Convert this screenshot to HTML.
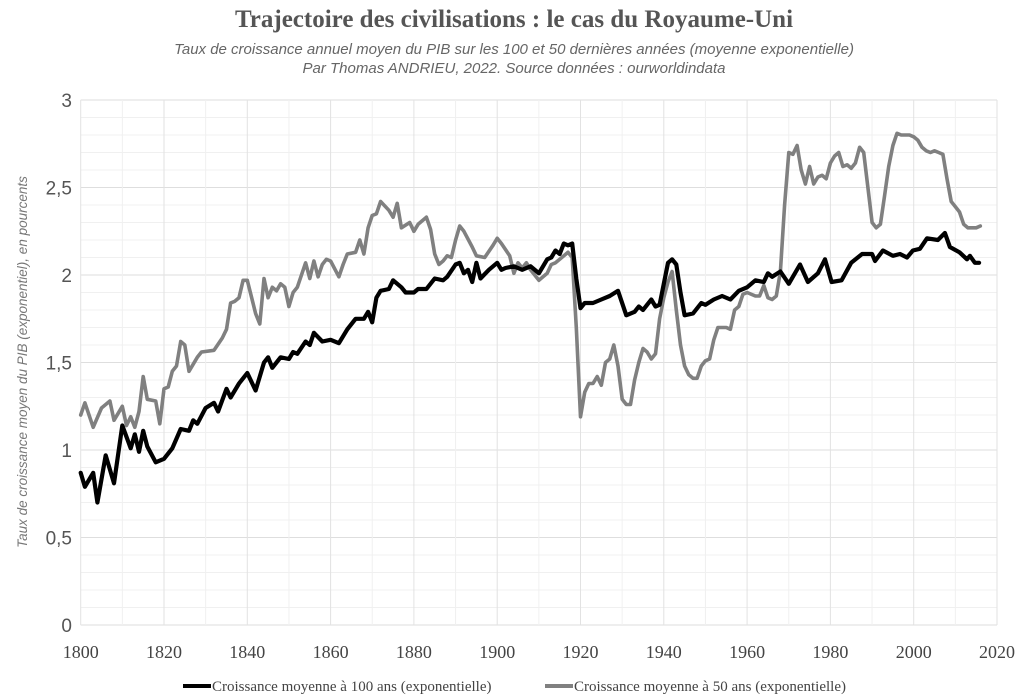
<!DOCTYPE html>
<html><head><meta charset="utf-8"><style>
body{margin:0;background:#fff;width:1024px;height:700px;overflow:hidden}
svg{display:block}
</style></head><body>
<svg id="chart" width="1024" height="700" xmlns="http://www.w3.org/2000/svg">
<text x="514" y="27" text-anchor="middle" font-family="Liberation Serif, serif" font-weight="bold" font-size="25" fill="#555">Trajectoire des civilisations : le cas du Royaume-Uni</text>
<text x="514" y="54" text-anchor="middle" font-family="Liberation Sans, sans-serif" font-style="italic" font-size="15" fill="#666">Taux de croissance annuel moyen du PIB sur les 100 et 50 dernières années (moyenne exponentielle)</text>
<text x="514" y="73" text-anchor="middle" font-family="Liberation Sans, sans-serif" font-style="italic" font-size="15" fill="#666">Par Thomas ANDRIEU, 2022. Source données : ourworldindata</text>
<text transform="translate(27,362) rotate(-90)" text-anchor="middle" font-family="Liberation Sans, sans-serif" font-style="italic" font-size="13.5" fill="#777">Taux de croissance moyen du PIB (exponentiel), en pourcents</text>
<g id="grid"></g><g id="axes"></g><g id="series"></g>
<g>
<line x1="183" y1="686" x2="211" y2="686" stroke="#000" stroke-width="4"/>
<text x="212" y="691" font-family="Liberation Serif, serif" font-size="15" fill="#444">Croissance moyenne à 100 ans (exponentielle)</text>
<line x1="545" y1="686" x2="573" y2="686" stroke="#808080" stroke-width="4"/>
<text x="574" y="691" font-family="Liberation Serif, serif" font-size="15" fill="#444">Croissance moyenne à 50 ans (exponentielle)</text>
</g>
</svg>
<script>
const xTicks=[1800,1820,1840,1860,1880,1900,1920,1940,1960,1980,2000,2020];
const yTicks=[0,0.5,1,1.5,2,2.5,3];
const yTickLabels=["0","0,5","1","1,5","2","2,5","3"];
const years100=[1800,1801,1803,1804,1806,1808,1810,1812,1813,1814,1815,1816,1818,1820,1822,1824,1826,1827,1828,1830,1832,1833,1835,1836,1838,1840,1842,1844,1845,1846,1848,1850,1851,1852,1854,1855,1856,1858,1860,1862,1864,1866,1868,1869,1870,1871,1872,1874,1875,1877,1878,1880,1881,1883,1885,1887,1888,1890,1891,1892,1893,1894,1895,1896,1898,1900,1901,1902,1904,1906,1908,1910,1912,1913,1914,1915,1916,1917,1918,1919,1920,1921,1923,1925,1927,1929,1931,1933,1934,1935,1936,1937,1938,1939,1941,1942,1943,1944,1945,1947,1949,1950,1952,1954,1956,1958,1960,1962,1964,1965,1966,1968,1970,1972.7,1974.6,1977,1978.7,1980.3,1982.7,1985,1987.6,1990,1990.7,1992.6,1995,1996.7,1998.4,1999.8,2001.5,2003.2,2005.8,2007.5,2008.7,2011,2012.8,2013.5,2014.7,2015.7];
const values100=[0.87,0.79,0.87,0.70,0.97,0.81,1.14,1.01,1.09,0.99,1.11,1.02,0.93,0.95,1.01,1.12,1.11,1.17,1.15,1.24,1.27,1.22,1.35,1.30,1.38,1.44,1.34,1.50,1.53,1.47,1.53,1.52,1.56,1.55,1.62,1.60,1.67,1.62,1.63,1.61,1.69,1.75,1.75,1.79,1.73,1.87,1.91,1.92,1.97,1.93,1.90,1.90,1.92,1.92,1.98,1.97,1.99,2.06,2.07,2.01,2.03,1.96,2.07,1.98,2.03,2.07,2.03,2.04,2.05,2.03,2.05,2.01,2.09,2.10,2.14,2.12,2.18,2.17,2.18,1.98,1.81,1.84,1.84,1.86,1.88,1.91,1.77,1.79,1.82,1.80,1.83,1.86,1.82,1.83,2.07,2.09,2.06,1.90,1.77,1.78,1.84,1.83,1.86,1.88,1.86,1.91,1.93,1.97,1.96,2.01,1.99,2.02,1.95,2.06,1.96,2.01,2.09,1.96,1.97,2.07,2.12,2.12,2.08,2.14,2.11,2.12,2.10,2.14,2.15,2.21,2.20,2.24,2.16,2.13,2.09,2.11,2.07,2.07];
const years50=[1800,1801,1803,1805,1807,1808,1810,1811,1812,1813,1814,1815,1816,1818,1819,1820,1821,1822,1823,1824,1825,1826,1828,1829,1832,1834,1835,1836,1837,1838,1839,1840,1842,1843,1844,1845,1846,1847,1848,1849,1850,1851,1852,1854,1855,1856,1857,1858,1859,1860,1862,1863,1864,1866,1867,1868,1869,1870,1871,1872,1874,1875,1876,1877,1879,1880,1881,1883,1884,1885,1886,1887,1888,1889,1890,1891,1892,1894,1895,1897,1899,1900,1901,1903,1904,1905,1906,1907,1908,1909,1910,1912,1913,1914,1915,1917,1918,1919,1920,1921,1922,1923,1924,1925,1926,1927,1928,1929,1930,1931,1932,1933,1934,1935,1936,1937,1938,1939,1940,1941,1942,1943,1944,1945,1946,1947,1948,1949,1950,1951,1952,1953,1954,1955,1956,1957,1958,1959,1960,1962,1963,1964,1965,1966,1967,1968,1969,1970,1971,1972,1973,1974,1975,1976,1977,1978,1979,1980,1981,1982,1983,1984,1985,1986,1987,1988,1989,1990,1991,1992,1993,1994,1995,1996,1997,1998,1999,2000,2001,2002,2003,2004,2005,2006,2007,2008,2009,2010,2011,2012,2013,2014,2015,2016];
const values50=[1.20,1.27,1.13,1.24,1.28,1.17,1.25,1.14,1.19,1.13,1.22,1.42,1.29,1.28,1.15,1.35,1.36,1.45,1.48,1.62,1.60,1.45,1.53,1.56,1.57,1.64,1.69,1.84,1.85,1.87,1.97,1.97,1.78,1.72,1.98,1.87,1.93,1.91,1.95,1.93,1.82,1.90,1.93,2.07,1.98,2.08,1.99,2.06,2.09,2.08,1.99,2.06,2.12,2.13,2.20,2.12,2.27,2.34,2.35,2.42,2.37,2.33,2.41,2.27,2.30,2.25,2.29,2.33,2.26,2.12,2.06,2.08,2.11,2.10,2.20,2.28,2.25,2.16,2.11,2.10,2.17,2.21,2.18,2.11,2.01,2.07,2.04,2.07,2.03,2.00,1.97,2.01,2.06,2.07,2.09,2.13,2.10,1.70,1.19,1.33,1.38,1.38,1.42,1.37,1.50,1.52,1.60,1.48,1.29,1.26,1.26,1.40,1.50,1.58,1.56,1.52,1.55,1.75,1.87,1.96,2.02,1.80,1.60,1.48,1.43,1.41,1.41,1.48,1.51,1.52,1.63,1.70,1.70,1.70,1.69,1.80,1.82,1.89,1.90,1.88,1.88,1.94,1.87,1.86,1.88,2.02,2.40,2.70,2.69,2.74,2.60,2.52,2.62,2.52,2.56,2.57,2.55,2.64,2.68,2.70,2.62,2.63,2.61,2.64,2.73,2.70,2.50,2.30,2.27,2.29,2.45,2.62,2.74,2.81,2.80,2.80,2.80,2.79,2.77,2.73,2.71,2.70,2.71,2.70,2.69,2.55,2.42,2.39,2.36,2.29,2.27,2.27,2.27,2.28];

const NS="http://www.w3.org/2000/svg";
const X0=80.7,X1=997,Y0=625,Y1=100;
function xs(v){return X0+(v-1800)/(2020-1800)*(X1-X0);}
function ys(v){return Y0-(v/3)*(Y0-Y1);}
function mk(tag,attrs,parent){const e=document.createElementNS(NS,tag);for(const k in attrs)e.setAttribute(k,attrs[k]);parent.appendChild(e);return e;}
const grid=document.getElementById('grid'),axes=document.getElementById('axes'),series=document.getElementById('series');
for(let i=0;i<=30;i++){const v=i/10;const l=mk('line',{x1:X0,x2:X1,y1:ys(v),y2:ys(v),stroke:i%5===0?'#dedede':'#f0f0f0','stroke-width':1},grid);

}
for(let yr=1800;yr<=2020;yr+=10){const l=mk('line',{x1:xs(yr),x2:xs(yr),y1:Y1,y2:Y0,stroke:yr%20===0?'#e2e2e2':'#f0f0f0','stroke-width':1},grid);

}
yTicks.forEach((v,i)=>{const t=mk('text',{x:72,y:ys(v)+7,'text-anchor':'end','font-family':'Liberation Sans, sans-serif','font-size':19,fill:'#555'},axes);t.textContent=yTickLabels[i];

});
xTicks.forEach(v=>{const t=mk('text',{x:xs(v),y:658,'text-anchor':'middle','font-family':'Liberation Serif, serif','font-size':18,fill:'#444'},axes);t.textContent=v;

});
function line(yrs,vals,color,w,name){const d=yrs.map((y,i)=>(i?'L':'M')+xs(y).toFixed(1)+','+ys(vals[i]).toFixed(1)).join('');
const p=mk('path',{d:d,fill:'none',stroke:color,'stroke-width':w,'stroke-linejoin':'round','stroke-linecap':'round'},series);

}
line(years50,values50,'#808080',3.6,'series-50-years');
line(years100,values100,'#000',4.2,'series-100-years');
</script>
</body></html>
